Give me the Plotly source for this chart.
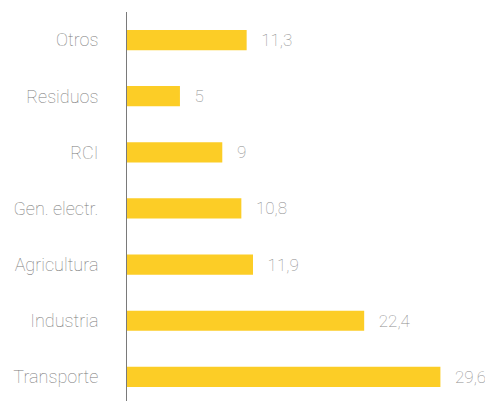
import plotly.graph_objects as go

sectores = ["Transporte", "Industria", "Agricultura", "Gen. electr.", "RCI", "Residuos", "Otros"]
valores = [29.6, 22.4, 11.9, 10.8, 9, 5, 11.3]

fuente = "Roboto"

fig = go.Figure(go.Bar(
    x=valores, y=sectores, orientation="h",
    marker=dict(color="#FCCD26", line=dict(width=0)),
    width=0.36,
    texttemplate="\u00a0\u00a0\u2009%{x}", textposition="outside", cliponaxis=False,
    textfont=dict(family=fuente, size=17, color="#8e8e8e", weight=100),
    hoverinfo="skip",
))

# la pagina tiene 8px de margen en el body, se compensa aqui
fig.update_layout(
    width=485, height=393,
    margin=dict(l=119, r=6, t=4, b=0, autoexpand=False),
    paper_bgcolor="white", plot_bgcolor="white",
    separators=",.",
    showlegend=False,
    font=dict(family=fuente, size=18, color="#7a7a7a", weight=100),
)
fig.update_xaxes(range=[0, 34], visible=False, showgrid=False, zeroline=False,
                 automargin=False)
fig.update_yaxes(
    range=[-0.43, 6.5], showgrid=False, zeroline=False, automargin=False,
    showline=True, linecolor="#7a7a7a", linewidth=1,
    ticks="", ticklabelstandoff=24,
    tickfont=dict(family=fuente, size=18, color="#7a7a7a", weight=100),
)

fig.write_html("out.html")
